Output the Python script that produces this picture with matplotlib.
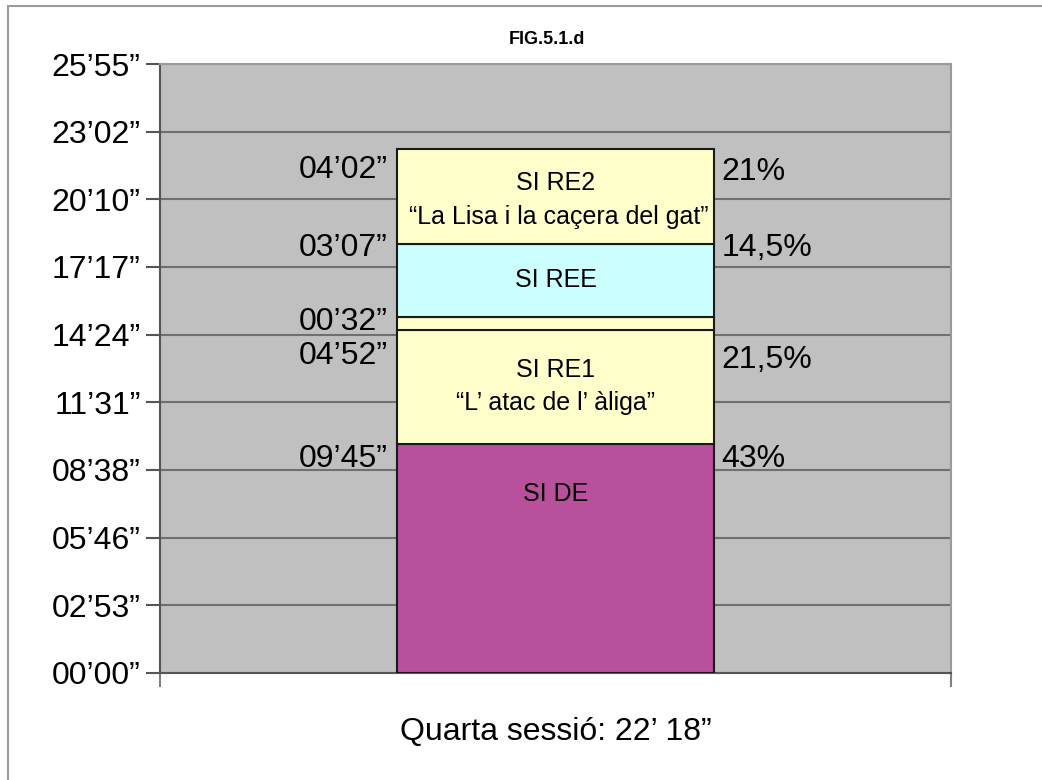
import matplotlib.pyplot as plt
from matplotlib.ticker import MultipleLocator, FuncFormatter
from matplotlib.patches import Rectangle
import matplotlib.transforms as mtransforms

# durations in seconds, bottom to top
segments = ["SI DE", "SI RE1", "pausa", "SI REE", "SI RE2"]
durations = [585, 292, 32, 187, 242]
time_labels = ["09’45”", "04’52”", "00’32”", "03’07”", "04’02”"]
pct_labels = ["43%", "21,5%", "", "14,5%", "21%"]
inner_labels = ["SI DE", "SI RE1\n“L’ atac de l’ àliga”", "", "SI REE",
                "SI RE2\n “La Lisa i la caçera del gat”"]
colors = ["#B8509C", "#FFFFCC", "#FFFFCC", "#CCFFFF", "#FFFFCC"]
total_label = "Quarta sessió: 22’ 18”"
title = "FIG.5.1.d"

FONT = ["Liberation Sans Narrow", "Liberation Sans", "DejaVu Sans"]
plt.rcParams['font.family'] = FONT


def fmt_time(v, pos=None):
    s = int(round(v))
    return f"{s // 60:02d}’{s % 60:02d}”"


fig = plt.figure(figsize=(10.42, 7.8), dpi=100)
# outer frame of the picture
fig.patches.append(Rectangle((8 / 1042, -0.1), 1.2, 1.1 - 6 / 780,
                             transform=fig.transFigure, fill=False,
                             edgecolor="#9a9a9a", linewidth=1.5))

ax = fig.add_axes([160 / 1042, 107 / 780, 791 / 1042, 609 / 780])
ax.set_facecolor("#C0C0C0")

bottom = 0
# vertical position of the texts inside each segment, as fraction of height
inner_frac = [0.78, 0.5, 0.5, 0.5, 0.46]
label_dy = [15, 26, 5, 4, 21]   # px below segment top (left labels)
pct_dy = [15, 30, 0, 4, 23]
for i, d in enumerate(durations):
    ax.bar(0, d, width=0.4, bottom=bottom, color=colors[i],
           edgecolor="#1a1a1a", linewidth=1.5, zorder=3)
    top = bottom + d
    tr = mtransforms.offset_copy(ax.transData, fig=fig, x=-10, y=-label_dy[i], units='dots')
    ax.text(-0.2, top, time_labels[i], transform=tr, ha='right', va='center',
            fontsize=23, zorder=4)
    if pct_labels[i]:
        tr2 = mtransforms.offset_copy(ax.transData, fig=fig, x=8, y=-pct_dy[i], units='dots')
        ax.text(0.2, top, pct_labels[i], transform=tr2, ha='left', va='center',
                fontsize=23, zorder=4)
    if inner_labels[i]:
        ax.text(0, bottom + d * inner_frac[i], inner_labels[i], ha='center', va='center',
                fontsize=18, linespacing=1.5, zorder=4)
    bottom = top

ax.set_xlim(-0.5, 0.5)
ax.set_ylim(0, 9 * 172.8)
ax.yaxis.set_major_locator(MultipleLocator(172.8))
ax.yaxis.set_major_formatter(FuncFormatter(fmt_time))
ax.grid(axis='y', color="#707070", linewidth=1.5, zorder=1)
ax.tick_params(axis='y', length=10, width=1.5, color="#555555", labelsize=23, pad=4)
ax.set_xticks([-0.5, 0.5])
ax.set_xticklabels(["", ""])
ax.tick_params(axis='x', length=10, width=1.5, color="#808080")
for s in ["left", "bottom"]:
    ax.spines[s].set_color("#555555")
    ax.spines[s].set_linewidth(1.5)
for s in ["right", "top"]:
    ax.spines[s].set_color("#9a9a9a")
    ax.spines[s].set_linewidth(1.5)

ax.set_xlabel(total_label, fontsize=23, labelpad=18)
fig.text(547 / 1042, 1 - 40 / 780, title, ha='center', va='center',
         fontsize=13, fontweight='bold')

fig.savefig("out.png", dpi=100)
